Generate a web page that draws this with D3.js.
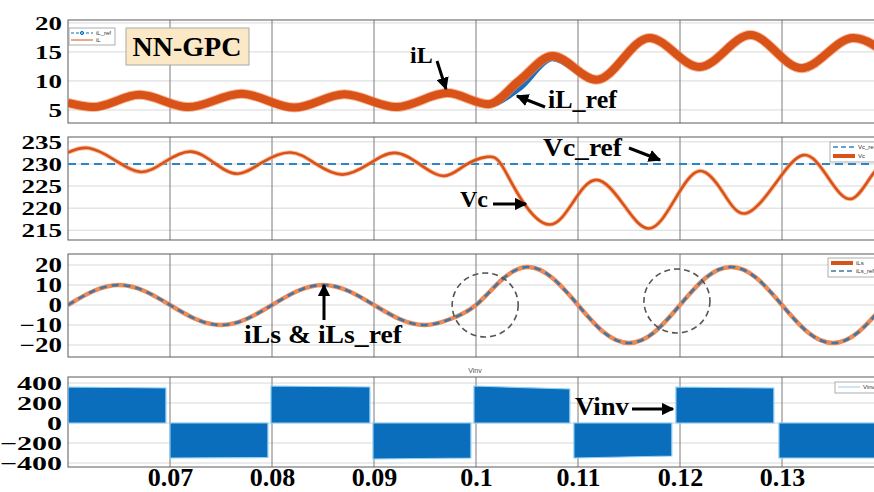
<!DOCTYPE html>
<html>
<head>
<meta charset="utf-8">
<script src="https://cdn.jsdelivr.net/npm/d3@7"></script>
<style>
  body { margin: 0; background: #fff; }
  svg { display: block; }
  .big { font-family: "Liberation Serif", "Times New Roman", serif; font-weight: bold; fill: #000; }
  .leg { font-family: "Liberation Sans", Arial, sans-serif; font-size: 6px; fill: #333; }
</style>
</head>
<body>
<svg id="chart"></svg>
<script>
// time axis
const xTicks = [0.07, 0.08, 0.09, 0.1, 0.11, 0.12, 0.13];

// panel 1 : iL and iL_ref (A)
const iLTime = [0.06, 0.0625, 0.067, 0.0718, 0.077, 0.0822, 0.0871, 0.0922, 0.0972, 0.1012, 0.1042, 0.1075, 0.1118, 0.117, 0.1219, 0.1269, 0.1319, 0.137, 0.1415];
const iLVal = [6.2, 5.5, 7.6, 5.5, 7.8, 5.4, 7.7, 5.5, 7.9, 6.0, 10.0, 14.3, 10.2, 17.4, 12.4, 17.9, 12.2, 17.4, 12.5];
const iLRefVal = [6.2, 5.5, 7.6, 5.5, 7.8, 5.4, 7.7, 5.5, 7.9, 6.0, 8.8, 14.0, 10.2, 17.4, 12.4, 17.9, 12.2, 17.4, 12.5];
const p1Ticks = [5, 10, 15, 20];

// panel 2 : Vc and Vc_ref (V)
const vcTime = [0.06, 0.062, 0.0645, 0.0671, 0.0695, 0.072, 0.0743, 0.0766, 0.079, 0.0818, 0.0843, 0.0869, 0.0895, 0.092, 0.0945, 0.0969, 0.099, 0.1011, 0.1025, 0.1045, 0.1072, 0.1095, 0.1118, 0.1144, 0.117, 0.1195, 0.1219, 0.1242, 0.1264, 0.1293, 0.1321, 0.1345, 0.1368, 0.139, 0.1412];
const vcVal = [232.6, 233.6, 231.0, 228.2, 230.5, 232.8, 230.3, 227.8, 230.3, 232.6, 230.0, 227.6, 230.0, 232.5, 229.9, 227.3, 229.8, 231.6, 229.8, 221.8, 216.3, 221.3, 226.4, 221.0, 215.4, 222.0, 228.4, 223.6, 218.8, 225.4, 232.0, 227.0, 222.1, 228.0, 232.0];
const vcRef = 230;
const p2Ticks = [215, 220, 225, 230, 235];

// panel 3 : iLs and iLs_ref (A)
const ilsTime = [0.06, 0.0625, 0.065, 0.0675, 0.07, 0.0725, 0.075, 0.0775, 0.08, 0.0825, 0.085, 0.0875, 0.09, 0.0925, 0.095, 0.0975, 0.1, 0.1025, 0.105, 0.1075, 0.11, 0.1125, 0.115, 0.1175, 0.12, 0.1225, 0.125, 0.1275, 0.13, 0.1325, 0.135, 0.1375, 0.14];
const ilsVal = [0, 7, 10, 7, 0, -7, -10, -7, 0, 7, 10, 7, 0, -7, -10, -7, 0, 12.5, 19, 13.5, 0, -13.5, -19, -13.5, 0, 13.5, 19, 13.5, 0, -13.5, -19, -13.5, 0];
const ilsRefVal = [0, 7, 10, 7, 0, -7, -10, -7, 0, 7, 10, 7, 0, -7, -10, -7, 0, 12.5, 19, 13.5, 0, -13.5, -19, -13.5, 0, 13.5, 19, 13.5, 0, -13.5, -19, -13.5, 0];
const p3Ticks = [-20, -10, 0, 10, 20];

// panel 4 : Vinv pulse blocks (start, end, level at start, level at end)
const vinvStart = [0.06, 0.07, 0.0799, 0.0899, 0.0998, 0.1096, 0.1196, 0.1297];
const vinvEnd = [0.0696, 0.0796, 0.0896, 0.0995, 0.1092, 0.1192, 0.1292, 0.141];
const vinvFrom = [360, -350, 370, -360, 370, -350, 360, -350];
const vinvTo = [350, -345, 360, -350, 340, -330, 350, -350];
const p4Ticks = [-400, -200, 0, 200, 400];

const W = 874, H = 492;
const orange = "#d95319", blue = "#0072bd";

const svg = d3.select("#chart").attr("width", W).attr("height", H);
const defs = svg.append("defs");
defs.append("marker").attr("id", "arr")
  .attr("viewBox", "0 0 10 10").attr("refX", 9).attr("refY", 5)
  .attr("markerWidth", 4.2).attr("markerHeight", 4.2).attr("orient", "auto")
  .append("path").attr("d", "M0,0 L10,5 L0,10 z").attr("fill", "#000");
defs.append("clipPath").attr("id", "clip").append("rect")
  .attr("x", 68).attr("y", 0).attr("width", 820).attr("height", H);

const x = d3.scaleLinear().domain([0.06, 0.14]).range([68, 884]);

const panels = [
  {top: 20, bottom: 123, domain: [2.75, 20.5], ticks: p1Ticks, fs: 27, sy: 0.72},
  {top: 137, bottom: 240, domain: [212.8, 236.1], ticks: p2Ticks, fs: 27, sy: 0.72},
  {top: 254, bottom: 357, domain: [-26, 25.5], ticks: p3Ticks, fs: 27, sy: 0.74},
  {top: 377, bottom: 467, domain: [-440, 460], ticks: p4Ticks, fs: 30, sy: 0.64}
];

panels.forEach(p => {
  p.y = d3.scaleLinear().domain(p.domain).range([p.bottom, p.top]);
  const g = svg.append("g");
  // horizontal grid
  g.append("g").selectAll("line").data(p.ticks).enter().append("line")
    .attr("x1", 68).attr("x2", 884)
    .attr("y1", d => p.y(d)).attr("y2", d => p.y(d))
    .attr("stroke", "#d8d8d8").attr("stroke-width", 1);
  // vertical grid
  g.append("g").selectAll("line").data(xTicks).enter().append("line")
    .attr("x1", d => x(d)).attr("x2", d => x(d))
    .attr("y1", p.top).attr("y2", p.bottom)
    .attr("stroke", "#7d7d7d").attr("stroke-width", 1);
  // box
  g.append("rect").attr("x", 68).attr("y", p.top).attr("width", 830).attr("height", p.bottom - p.top)
    .attr("fill", "none").attr("stroke", "#5a5a5a").attr("stroke-width", 1);
  // y axis labels
  const ax = g.append("g").attr("transform", "translate(68,0)")
    .call(d3.axisLeft(p.y).tickValues(p.ticks).tickSize(0).tickPadding(6).tickFormat(d3.format("d")));
  ax.select(".domain").remove();
  ax.selectAll("text").attr("class", "big")
    .style("font-size", p.fs + "px")
    .attr("transform", `scale(1,${p.sy})`);
});

const plot = svg.append("g").attr("clip-path", "url(#clip)");

// ---- panel 1
const P1 = panels[0];
const lineP1 = vals => d3.line().curve(d3.curveMonotoneX)
  .x((d, i) => x(iLTime[i])).y(d => P1.y(d))(vals);
plot.append("path").attr("d", lineP1(iLRefVal)).attr("fill", "none")
  .attr("stroke", "#1f6fb8").attr("stroke-width", 7);
plot.append("path").attr("d", lineP1(iLVal)).attr("fill", "none")
  .attr("stroke", "#f08a55").attr("stroke-width", 10).attr("opacity", 0.6);
plot.append("path").attr("d", lineP1(iLVal)).attr("fill", "none")
  .attr("stroke", orange).attr("stroke-width", 8);

// ---- panel 2
const P2 = panels[1];
plot.append("line").attr("x1", 68).attr("x2", 884)
  .attr("y1", P2.y(vcRef)).attr("y2", P2.y(vcRef))
  .attr("stroke", "#2a86c8").attr("stroke-width", 2).attr("stroke-dasharray", "8,5");
const lineP2 = d3.line().curve(d3.curveNatural)
  .x((d, i) => x(vcTime[i])).y(d => P2.y(d));
plot.append("path").attr("d", lineP2(vcVal)).attr("fill", "none")
  .attr("stroke", "#f3a77d").attr("stroke-width", 4.5).attr("opacity", 0.7);
plot.append("path").attr("d", lineP2(vcVal)).attr("fill", "none")
  .attr("stroke", orange).attr("stroke-width", 2.6);

// ---- panel 3
const P3 = panels[2];
const lineP3 = d3.line().curve(d3.curveNatural)
  .x((d, i) => x(ilsTime[i])).y(d => P3.y(d));
plot.append("path").attr("d", lineP3(ilsVal)).attr("fill", "none")
  .attr("stroke", "#ee8a55").attr("stroke-width", 4.5);
plot.append("path").attr("d", lineP3(ilsRefVal)).attr("fill", "none")
  .attr("stroke", "#3f77a8").attr("stroke-width", 2.6).attr("stroke-dasharray", "7,5");

// ---- panel 4
const P4 = panels[3];
const vinvArea = d3.area().x(d => x(d.t)).y0(P4.y(0)).y1(d => P4.y(d.v));
vinvStart.forEach((s, i) => {
  plot.append("path")
    .attr("d", vinvArea([{t: s, v: vinvFrom[i]}, {t: vinvEnd[i], v: vinvTo[i]}]))
    .attr("fill", "#0a6ebd").attr("stroke", "#8fd0f3").attr("stroke-width", 1.2);
});
svg.append("text").attr("x", 475).attr("y", 373).attr("text-anchor", "middle")
  .style("font-family", "Liberation Sans, Arial").style("font-size", "7px").attr("fill", "#555").text("Vinv");

// x axis labels
const xa = svg.append("g").attr("transform", `translate(0,${P4.bottom})`)
  .call(d3.axisBottom(x).tickValues(xTicks).tickSize(0).tickPadding(0).tickFormat(d => String(+d.toFixed(2))));
xa.select(".domain").remove();
xa.selectAll("text").attr("class", "big").style("font-size", "26px").attr("dy", "0.72em");

// ---- annotations
function txt(s, px, py, fs) {
  return svg.append("text").attr("class", "big").attr("x", px).attr("y", py)
    .style("font-size", fs + "px").text(s);
}
function arrow(x1, y1, x2, y2) {
  svg.append("line").attr("x1", x1).attr("y1", y1).attr("x2", x2).attr("y2", y2)
    .attr("stroke", "#000").attr("stroke-width", 3).attr("marker-end", "url(#arr)");
}

// NN-GPC box
svg.append("rect").attr("x", 126).attr("y", 28).attr("width", 123).attr("height", 37)
  .attr("fill", "#fbe8c6").attr("stroke", "#a9a9a9").attr("stroke-width", 1);
txt("NN-GPC", 187, 56, 28).attr("text-anchor", "middle");

txt("iL", 410, 63, 24);
arrow(437, 61, 446, 89);
txt("iL_ref", 548, 108, 26);
arrow(545, 107, 517, 96);

txt("Vc_ref", 543, 156, 25).attr("textLength", 79).attr("lengthAdjust", "spacingAndGlyphs");
arrow(629, 148, 660, 160);
txt("Vc", 460, 207, 24);
arrow(493, 204, 526, 204);

txt("iLs & iLs_ref", 244, 343, 25).attr("textLength", 158).attr("lengthAdjust", "spacingAndGlyphs");
arrow(324, 320, 324, 285);

txt("Vinv", 575, 415, 26).attr("textLength", 54).attr("lengthAdjust", "spacingAndGlyphs");
arrow(632, 409, 673, 409);

// dashed circles
[[0.1009, 0], [0.1197, 2]].forEach(c => {
  svg.append("ellipse").attr("cx", x(c[0])).attr("cy", P3.y(c[1])).attr("rx", 33).attr("ry", 32)
    .attr("fill", "none").attr("stroke", "#555").attr("stroke-width", 1.6).attr("stroke-dasharray", "6,4");
});

// ---- legends
function legBox(x0, y0, w, h) {
  svg.append("rect").attr("x", x0).attr("y", y0).attr("width", w).attr("height", h)
    .attr("fill", "#fff").attr("stroke", "#9a9a9a").attr("stroke-width", 0.8);
}
function legLine(x0, y0, color, width, dash, label) {
  svg.append("line").attr("x1", x0).attr("x2", x0 + 22).attr("y1", y0).attr("y2", y0)
    .attr("stroke", color).attr("stroke-width", width).attr("stroke-dasharray", dash);
  svg.append("text").attr("class", "leg").attr("x", x0 + 25).attr("y", y0 + 2).text(label);
}
legBox(69, 28, 46, 17);
legLine(71, 33, blue, 1, "3,2", "iL_ref");
svg.append("circle").attr("cx", 82).attr("cy", 33).attr("r", 1.6).attr("fill", "none").attr("stroke", blue);
legLine(71, 40, orange, 1, null, "iL");

legBox(830, 142, 60, 20);
legLine(833, 147, "#2a86c8", 1.5, "5,3", "Vc_ref");
legLine(833, 156, orange, 4, null, "Vc");

legBox(828, 258, 60, 19);
legLine(831, 263, orange, 4, null, "iLs");
legLine(831, 271, "#3f77a8", 1.5, "5,3", "iLs_ref");

legBox(835, 382, 55, 11);
legLine(838, 387, "#9ecae1", 1, null, "Vinv");
</script>
</body>
</html>
